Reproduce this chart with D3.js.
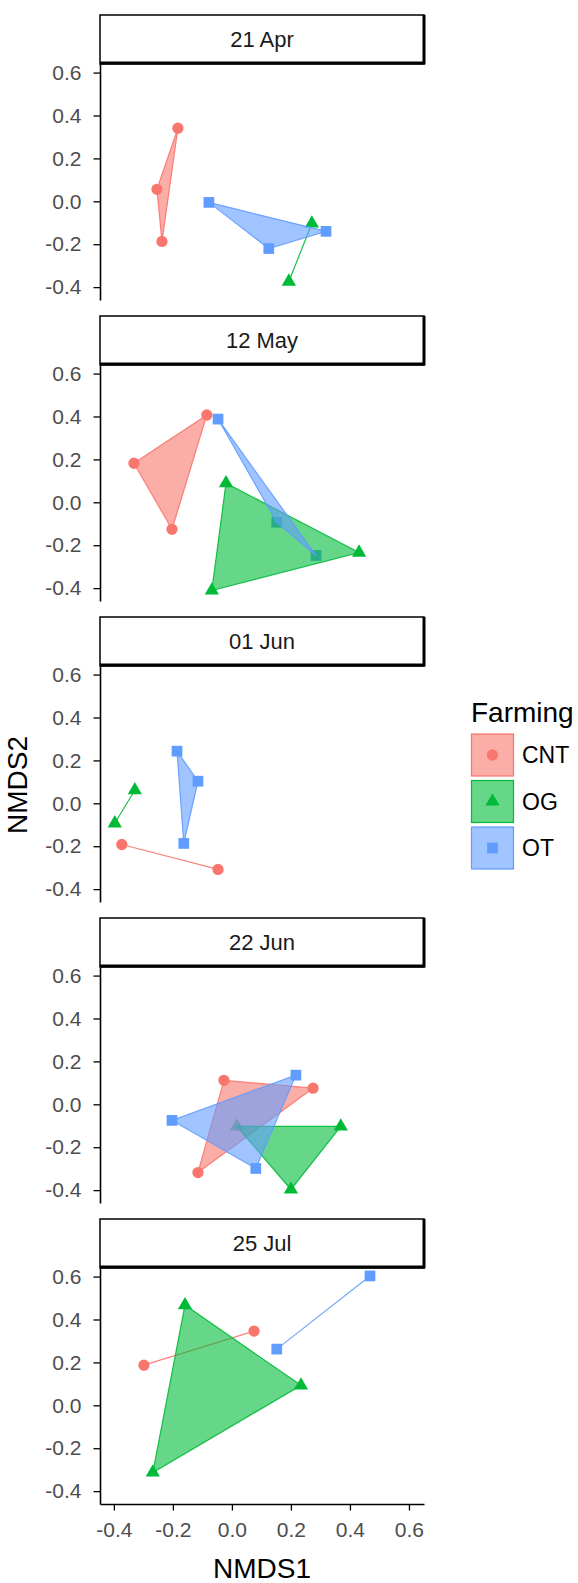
<!DOCTYPE html>
<html>
<head>
<meta charset="utf-8">
<script src="https://cdn.jsdelivr.net/npm/d3@7"></script>
<style>
  body { margin: 0; background: #fff; }
  svg { display: block; font-family: 'Liberation Sans', Arial, sans-serif; }
</style>
</head>
<body>
<svg id="chart" width="578" height="1583"></svg>
<script>
// facet labels, groups, ticks
const dates = ['21 Apr', '12 May', '01 Jun', '22 Jun', '25 Jul'];
const groups = ['CNT', 'OG', 'OT'];
const colors = ['#F8766D', '#00BA38', '#619CFF'];
const xTicks = [-0.4, -0.2, 0.0, 0.2, 0.4, 0.6];
const yTicks = [-0.4, -0.2, 0.0, 0.2, 0.4, 0.6];

// site scores: [date, NMDS1, NMDS2]
const cnt = [
    ['21 Apr', -0.183, 0.341], ['21 Apr', -0.254, 0.056], ['21 Apr', -0.237, -0.187],
    ['12 May', -0.085, 0.407], ['12 May', -0.332, 0.182], ['12 May', -0.203, -0.126],
    ['01 Jun', -0.373, -0.192], ['01 Jun', -0.047, -0.308],
    ['22 Jun', -0.027, 0.112], ['22 Jun', 0.275, 0.075], ['22 Jun', -0.115, -0.318],
    ['25 Jul', -0.298, 0.187], ['25 Jul', 0.075, 0.346]
];
const og = [
    ['21 Apr', 0.271, -0.103], ['21 Apr', 0.193, -0.374],
    ['12 May', -0.020, 0.089], ['12 May', 0.431, -0.234], ['12 May', -0.068, -0.411],
    ['01 Jun', -0.329, 0.061], ['01 Jun', -0.397, -0.093],
    ['22 Jun', 0.017, -0.103], ['22 Jun', 0.369, -0.103], ['22 Jun', 0.200, -0.397],
    ['25 Jul', -0.159, 0.467], ['25 Jul', 0.234, 0.093], ['25 Jul', -0.268, -0.313]
];
const ot = [
    ['21 Apr', -0.078, -0.005], ['21 Apr', 0.125, -0.220], ['21 Apr', 0.319, -0.140],
    ['12 May', -0.047, 0.388], ['12 May', 0.152, -0.093], ['12 May', 0.285, -0.248],
    ['01 Jun', -0.186, 0.243], ['01 Jun', -0.115, 0.103], ['01 Jun', -0.163, -0.187],
    ['22 Jun', 0.217, 0.136], ['22 Jun', -0.203, -0.075], ['22 Jun', 0.081, -0.299],
    ['25 Jul', 0.152, 0.262], ['25 Jul', 0.468, 0.603]
];
const series = [cnt, og, ot];

const svg = d3.select('#chart');
const left = 100, right = 424;
const firstTop = 15, stripH = 49, plotH = 236, pitch = 301;
const fmt = d => d.toFixed(1);

const x = d3.scaleLinear().domain([-0.447, 0.651]).range([left, right]);
const color = d3.scaleOrdinal().domain(groups).range(colors);
const shape = d3.scaleOrdinal().domain(groups)
    .range([d3.symbolCircle, d3.symbolTriangle, d3.symbolSquare]);
const sizes = { CNT: 100, OG: 88, OT: 115 };

dates.forEach((date, i) => {
    const stripTop = firstTop + i * pitch;
    const top = stripTop + stripH;
    const bottom = top + plotH;
    const y = d3.scaleLinear().domain([-0.46, 0.64]).range([bottom, top]);
    const g = svg.append('g').attr('class', 'panel');

    // strip
    g.append('rect')
        .attr('x', left).attr('y', stripTop)
        .attr('width', right - left).attr('height', stripH)
        .attr('fill', '#fff').attr('stroke', '#000').attr('stroke-width', 1.5);
    g.append('path')
        .attr('d', `M${left},${stripTop + stripH - 1}H${right}V${stripTop}`)
        .attr('fill', 'none').attr('stroke', '#000').attr('stroke-width', 3);
    g.append('text')
        .attr('x', (left + right) / 2).attr('y', stripTop + stripH / 2)
        .attr('dy', '0.36em').attr('text-anchor', 'middle')
        .attr('font-size', 22).attr('fill', '#1A1A1A')
        .text(date);

    // points first, hulls over them
    const marks = g.append('g');
    groups.forEach((grp, k) => {
        const pts = series[k].filter(r => r[0] === date);
        marks.selectAll(null).data(pts).enter().append('path')
            .attr('transform', d => `translate(${x(d[1])},${y(d[2])})`)
            .attr('d', d3.symbol().type(shape(grp)).size(sizes[grp]))
            .attr('fill', color(grp));
    });
    groups.forEach((grp, k) => {
        const xy = series[k].filter(r => r[0] === date).map(r => [x(r[1]), y(r[2])]);
        let poly = xy.length > 2 ? d3.polygonHull(xy) : xy;
        marks.append('path')
            .attr('d', d3.line()(poly) + (poly.length > 2 ? 'Z' : ''))
            .attr('fill', poly.length > 2 ? color(grp) : 'none')
            .attr('fill-opacity', 0.6)
            .attr('stroke', color(grp))
            .attr('stroke-opacity', 0.9)
            .attr('stroke-width', 1.2);
    });

    // y axis
    const ya = g.append('g')
        .attr('transform', `translate(${left},0)`)
        .call(d3.axisLeft(y).tickValues(yTicks).tickFormat(fmt).tickSize(6.5).tickPadding(12).tickSizeOuter(0));
    ya.select('.domain').attr('stroke-width', 1.6);
    ya.selectAll('.tick line').attr('stroke-width', 1.3);
    ya.selectAll('.tick text').attr('font-size', 21).attr('fill', '#4D4D4D')
        .attr('font-family', "'Liberation Sans', Arial, sans-serif");

    if (i === dates.length - 1) {
        const xa = g.append('g')
            .attr('transform', `translate(0,${bottom})`)
            .call(d3.axisBottom(x).tickValues(xTicks).tickFormat(fmt).tickSize(6.5).tickPadding(12).tickSizeOuter(0));
        xa.select('.domain').attr('stroke-width', 1.6);
        xa.selectAll('.tick line').attr('stroke-width', 1.3);
        xa.selectAll('.tick text').attr('font-size', 21).attr('fill', '#4D4D4D')
            .attr('font-family', "'Liberation Sans', Arial, sans-serif");
    }
});

// axis titles
svg.append('text')
    .attr('x', (left + right) / 2).attr('y', 1578)
    .attr('text-anchor', 'middle').attr('font-size', 28).attr('fill', '#000')
    .text('NMDS1');
svg.append('text')
    .attr('transform', 'translate(27,785) rotate(-90)')
    .attr('text-anchor', 'middle').attr('font-size', 28).attr('fill', '#000')
    .text('NMDS2');

// legend
const leg = svg.append('g').attr('transform', 'translate(471,0)');
leg.append('text')
    .attr('x', 0).attr('y', 722)
    .attr('font-size', 28).attr('fill', '#000')
    .text('Farming');
groups.forEach((grp, k) => {
    const ky = 734 + k * 46.5;
    leg.append('rect')
        .attr('x', 0.5).attr('y', ky)
        .attr('width', 42).attr('height', 42)
        .attr('fill', color(grp)).attr('fill-opacity', 0.6)
        .attr('stroke', color(grp)).attr('stroke-width', 1.2);
    leg.append('path')
        .attr('transform', `translate(21.5,${ky + 21})`)
        .attr('d', d3.symbol().type(shape(grp)).size(sizes[grp]))
        .attr('fill', color(grp));
    leg.append('text')
        .attr('x', 51).attr('y', ky + 21).attr('dy', '0.36em')
        .attr('font-size', 23).attr('fill', '#000')
        .text(grp);
});
</script>
</body>
</html>
